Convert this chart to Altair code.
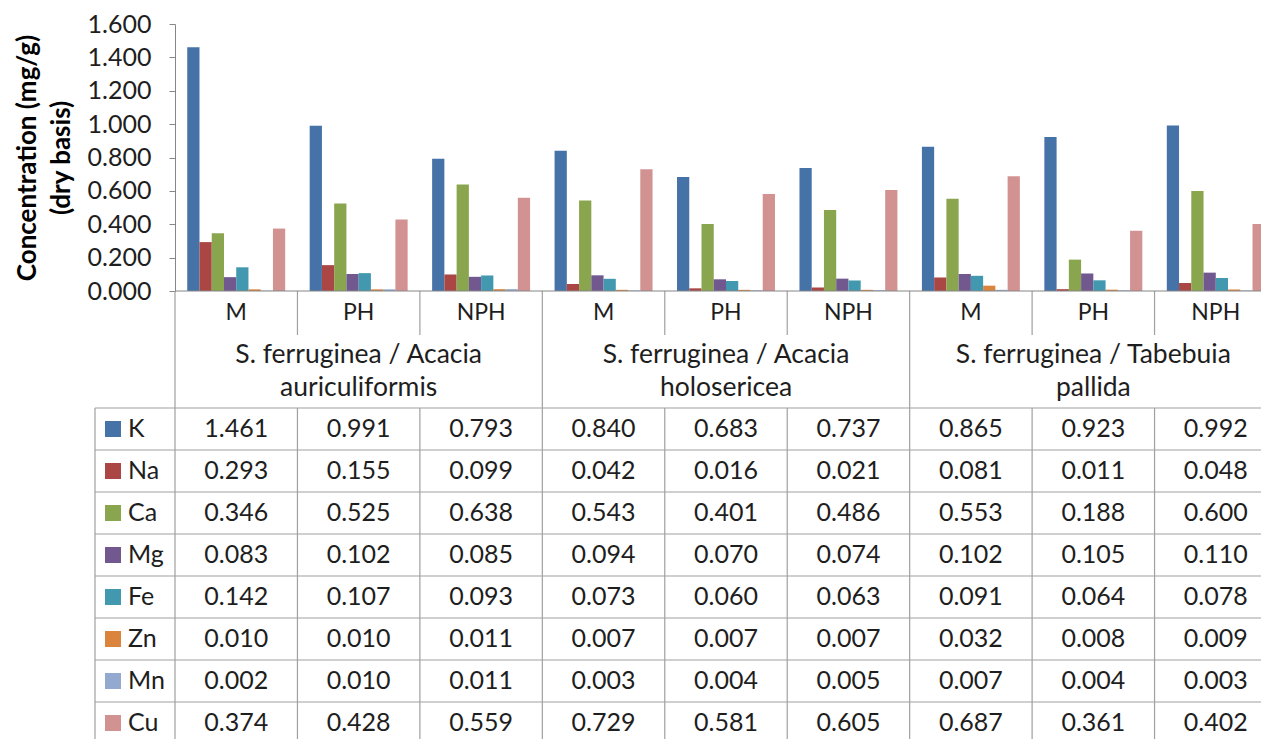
import altair as alt
import pandas as pd

# ---------------- data ----------------
groups = ["S. ferruginea / Acacia\nauriculiformis",
          "S. ferruginea / Acacia\nholosericea",
          "S. ferruginea / Tabebuia\npallida"]
subs = ["M", "PH", "NPH"]
elements = ["K", "Na", "Ca", "Mg", "Fe", "Zn", "Mn", "Cu"]
colors = ["#4572A7", "#AA4643", "#89A54E", "#71588F", "#4198AF", "#DB843D", "#93A9CF", "#D39292"]

K  = [1.461, 0.991, 0.793, 0.840, 0.683, 0.737, 0.865, 0.923, 0.992]
Na = [0.293, 0.155, 0.099, 0.042, 0.016, 0.021, 0.081, 0.011, 0.048]
Ca = [0.346, 0.525, 0.638, 0.543, 0.401, 0.486, 0.553, 0.188, 0.600]
Mg = [0.083, 0.102, 0.085, 0.094, 0.070, 0.074, 0.102, 0.105, 0.110]
Fe = [0.142, 0.107, 0.093, 0.073, 0.060, 0.063, 0.091, 0.064, 0.078]
Zn = [0.010, 0.010, 0.011, 0.007, 0.007, 0.007, 0.032, 0.008, 0.009]
Mn = [0.002, 0.010, 0.011, 0.003, 0.004, 0.005, 0.007, 0.004, 0.003]
Cu = [0.374, 0.428, 0.559, 0.729, 0.581, 0.605, 0.687, 0.361, 0.402]
series = {"K": K, "Na": Na, "Ca": Ca, "Mg": Mg, "Fe": Fe, "Zn": Zn, "Mn": Mn, "Cu": Cu}

y_ticks = [0, 0.2, 0.4, 0.6, 0.8, 1.0, 1.2, 1.4, 1.6]

cols = [f"{gi}-{s}" for gi in range(len(groups)) for s in subs]

rows = []
for e in elements:
    for c, v in zip(cols, series[e]):
        rows.append({"col": c, "element": e, "value": v, "label": f"{v:.3f}"})
df = pd.DataFrame(rows)

sub_df = pd.DataFrame({"col": cols, "sub": [c.split("-")[1] for c in cols],
                       "kind": ["group" if i % 3 == 0 else "sub" for i in range(len(cols))]})
grp_df = pd.DataFrame({"col": [cols[3 * i + 1] for i in range(len(groups))], "group": groups})
el_df = pd.DataFrame({"element": elements})
one = pd.DataFrame({"a": [0]})

# ---------------- styling ----------------
FONT = "Lato"
TXT = "#1e1e1e"
LINE = "#A0A0A0"
XR = 1102           # full width of the 9 category columns (extends past the page edge)
W = 1086            # visible plot width
BASE = 267          # pixel of zero line (relative to plot top)
TABLE_TOP = 384
TABLE_BOT = 720
H = 715

xs = alt.Scale(type="band", domain=cols, range=[0, XR], paddingInner=0, paddingOuter=0)
rs = alt.Scale(type="band", domain=elements, range=[TABLE_TOP, TABLE_BOT], paddingInner=0, paddingOuter=0)
cs = alt.Scale(domain=elements, range=colors)

bars = alt.Chart(df).mark_bar().encode(
    x=alt.X("col:N", scale=xs, axis=None),
    xOffset=alt.XOffset("element:N", scale=alt.Scale(domain=elements, paddingInner=0, paddingOuter=1)),
    y=alt.Y("value:Q", scale=alt.Scale(domain=[0, 1.6], range=[BASE, 0], nice=False),
            axis=alt.Axis(values=y_ticks, format=".3f", grid=False,
                          labelFont=FONT, labelFontSize=25, labelColor=TXT, labelPadding=18,
                          tickColor="#868686", tickSize=6, domainColor="#868686",
                          title=["Concentration (mg/g)", "(dry basis)"],
                          titleFont=FONT, titleFontSize=26, titleFontWeight="bold",
                          titleColor="#000000", titlePadding=13, titleLineHeight=34)),
    color=alt.Color("element:N", scale=cs, legend=None),
)

cells = alt.Chart(df).mark_text(font=FONT, fontSize=25, color=TXT).encode(
    x=alt.X("col:N", scale=xs, axis=None),
    y=alt.Y("element:N", scale=rs, axis=None),
    text="label:N",
)

leg_sq = alt.Chart(el_df).mark_square(size=256, opacity=1).encode(
    x=alt.value(-62),
    y=alt.Y("element:N", scale=rs, axis=None),
    color=alt.Color("element:N", scale=cs, legend=None),
)
leg_tx = alt.Chart(el_df).mark_text(font=FONT, fontSize=25, color=TXT, align="left").encode(
    x=alt.value(-47),
    y=alt.Y("element:N", scale=rs, axis=None),
    text="element:N",
)

sub_tx = alt.Chart(sub_df).mark_text(font=FONT, fontSize=23, color=TXT).encode(
    x=alt.X("col:N", scale=xs, axis=None), y=alt.value(289), text="sub:N")
grp_tx = alt.Chart(grp_df).mark_text(font=FONT, fontSize=26.5, color=TXT, lineBreak="\n",
                                     lineHeight=33, baseline="middle").encode(
    x=alt.X("col:N", scale=xs, axis=None), y=alt.value(331), text="group:N")

row_lines = alt.Chart(el_df).mark_rule(color=LINE, strokeWidth=1.2).encode(
    y=alt.Y("element:N", scale=rs, axis=None, bandPosition=0),
    x=alt.value(-80), x2=alt.value(XR))
base_line = alt.Chart(one).mark_rule(color="#868686", strokeWidth=1.2).encode(
    y=alt.value(BASE), x=alt.value(0), x2=alt.value(XR))
v_table = alt.Chart(sub_df).mark_rule(color=LINE, strokeWidth=1.2).encode(
    x=alt.X("col:N", scale=xs, axis=None, bandPosition=0),
    y=alt.value(TABLE_TOP), y2=alt.value(TABLE_BOT + 30))
v_group = alt.Chart(sub_df).transform_filter(alt.datum.kind == "group").mark_rule(
    color=LINE, strokeWidth=1.2).encode(
    x=alt.X("col:N", scale=xs, axis=None, bandPosition=0),
    y=alt.value(BASE), y2=alt.value(TABLE_TOP))
v_sub = alt.Chart(sub_df).transform_filter(alt.datum.kind == "sub").mark_rule(
    color=LINE, strokeWidth=1.2).encode(
    x=alt.X("col:N", scale=xs, axis=None, bandPosition=0),
    y=alt.value(BASE), y2=alt.value(311))
v_leg = alt.Chart(one).mark_rule(color=LINE, strokeWidth=1.2).encode(
    x=alt.value(-80), y=alt.value(TABLE_TOP), y2=alt.value(TABLE_BOT + 30))

chart = alt.layer(
    row_lines, v_table, v_group, v_sub, v_leg, bars, base_line,
    cells, leg_sq, leg_tx, sub_tx, grp_tx,
).resolve_scale(y="independent").properties(
    width=W, height=H,
    autosize=alt.AutoSizeParams(type="none"),
    padding={"left": 167, "top": 16, "right": 0, "bottom": 0},
    background="white",
).configure_view(stroke=None)

chart.save("out.html", embed_options={"renderer": "svg", "actions": False})
